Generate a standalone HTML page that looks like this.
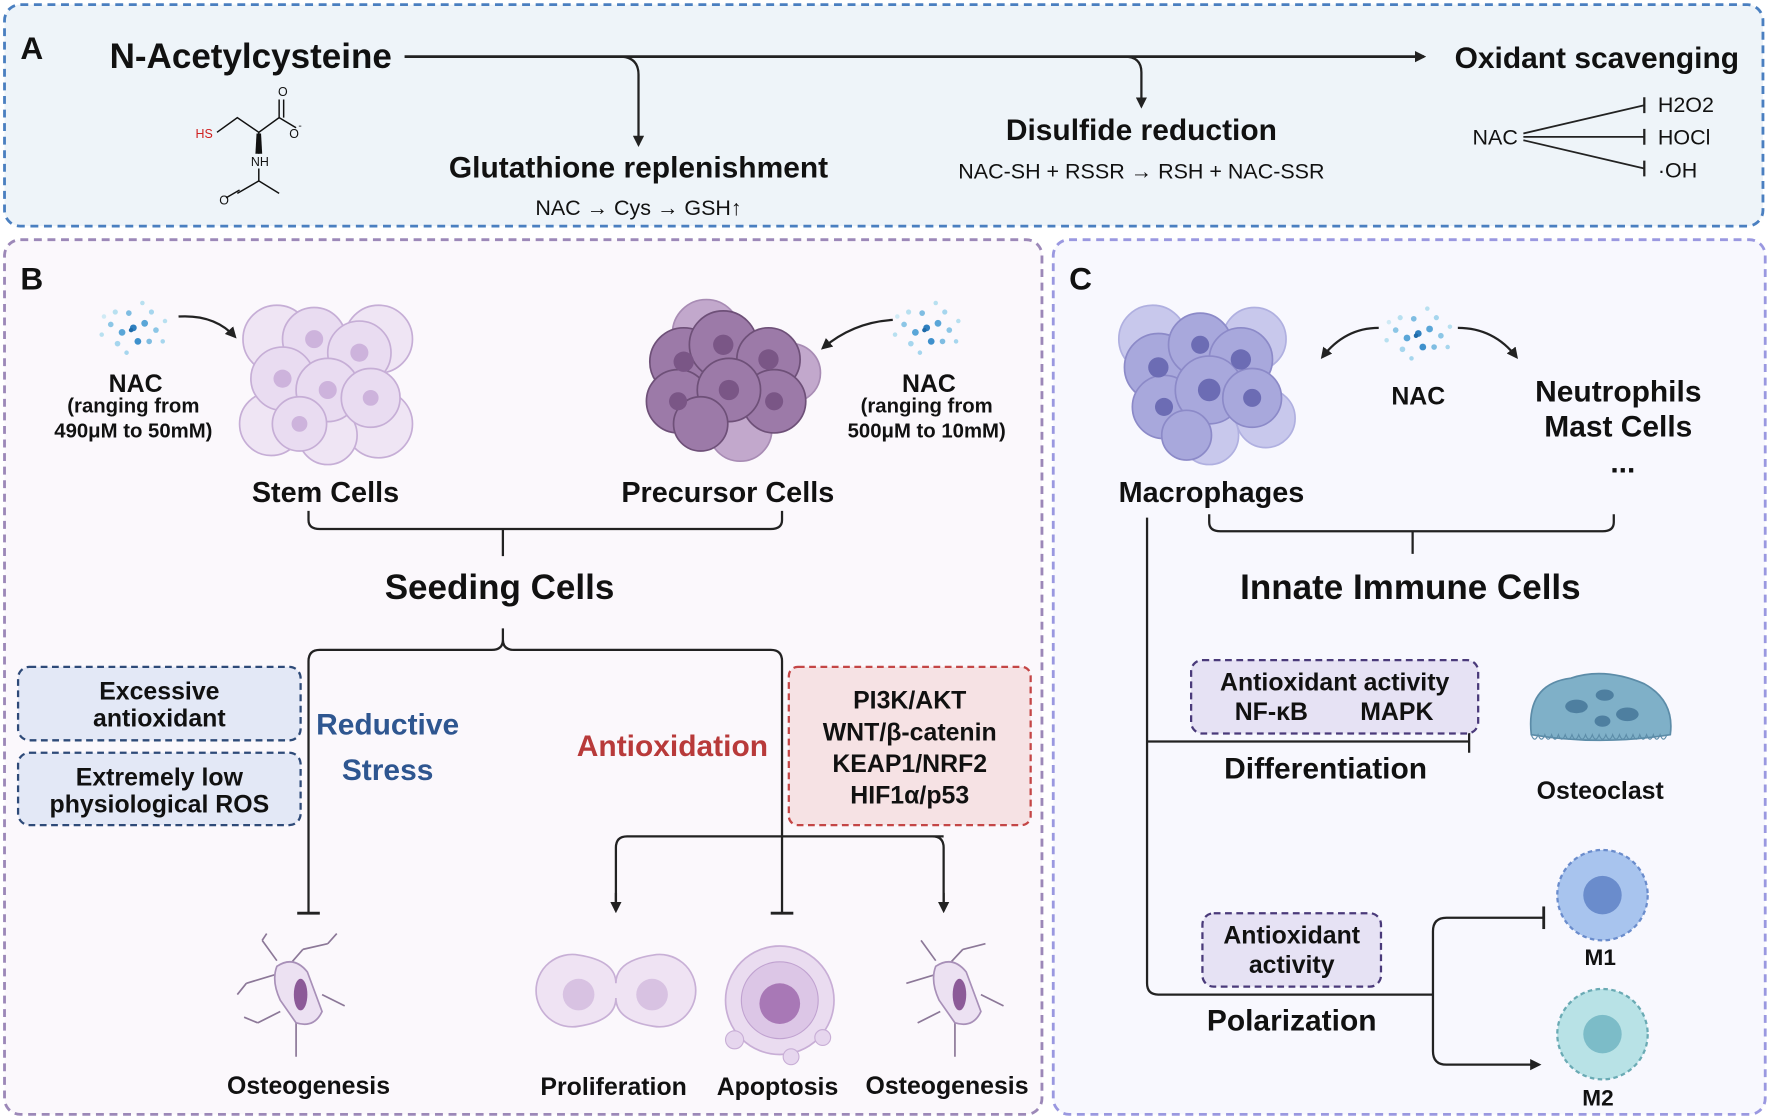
<!DOCTYPE html>
<html><head><meta charset="utf-8"><style>
html,body{margin:0;padding:0;background:#fff}
svg{display:block}
text{font-family:"Liberation Sans",Arial,sans-serif;fill:#111}
.b{font-weight:bold}
</style></head><body>
<svg width="1772" height="1119" viewBox="0 0 1568 990" xmlns="http://www.w3.org/2000/svg">
<defs>
<marker id="ar" markerWidth="10" markerHeight="10" refX="8" refY="5" orient="auto" markerUnits="userSpaceOnUse"><path d="M0,0 L10,5 L0,10 z" fill="#222"/></marker>
<g id="nac">
<circle cx="0" cy="0" r="3" fill="#2f7fbf"/><circle cx="10" cy="-4" r="3" fill="#5aa6d8"/><circle cx="-10" cy="4" r="3" fill="#5aa6d8"/>
<circle cx="20" cy="2" r="2.5" fill="#8cc6e6"/><circle cx="-20" cy="-3" r="2.5" fill="#8cc6e6"/><circle cx="4" cy="12" r="3" fill="#3e90cc"/>
<circle cx="-4" cy="-13" r="2.5" fill="#7fbde2"/><circle cx="14" cy="12" r="2.5" fill="#7fbde2"/><circle cx="-14" cy="14" r="2.5" fill="#a6d6ee"/>
<circle cx="16" cy="-14" r="2.3" fill="#a6d6ee"/><circle cx="-16" cy="-14" r="2.3" fill="#b8e0f0"/><circle cx="28" cy="-6" r="2" fill="#b8e0f0"/>
<circle cx="-28" cy="6" r="2" fill="#b8e0f0"/><circle cx="26" cy="12" r="2" fill="#a6d6ee"/><circle cx="-6" cy="22" r="2" fill="#a6d6ee"/>
<circle cx="8" cy="-22" r="2" fill="#b8e0f0"/><circle cx="-26" cy="-10" r="2" fill="#cfeaf5"/><circle cx="-2" cy="2" r="2" fill="#1f6aa8"/>
</g>
</defs>

<rect x="4" y="4" width="1556" height="196" rx="14" fill="#eef4f9" stroke="#4a7fc0" stroke-width="2.5" stroke-dasharray="7,5"/>
<rect x="4" y="212" width="918" height="774" rx="14" fill="#fbf8fc" stroke="#9c88b8" stroke-width="2.5" stroke-dasharray="7,5"/>
<rect x="932" y="212" width="630" height="774" rx="14" fill="#f8f8fe" stroke="#9a98e0" stroke-width="2.5" stroke-dasharray="7,5"/>

<text x="18" y="52" class="b" font-size="28">A</text>
<text x="97" y="60" class="b" font-size="31">N-Acetylcysteine</text>
<path d="M358 50 H1260" stroke="#222" stroke-width="2.5" fill="none" marker-end="url(#ar)"/>
<path d="M548 50 Q565 50 565 66 V128" stroke="#222" stroke-width="2" fill="none" marker-end="url(#ar)"/>
<path d="M995 50 Q1010 50 1010 64 V94" stroke="#222" stroke-width="2" fill="none" marker-end="url(#ar)"/>
<text x="1413" y="60" class="b" font-size="26.5" text-anchor="middle">Oxidant scavenging</text>
<text x="565" y="157" class="b" font-size="26.5" text-anchor="middle">Glutathione replenishment</text>
<text x="565" y="190" font-size="19" text-anchor="middle">NAC → Cys → GSH↑</text>
<text x="1010" y="124" class="b" font-size="26.5" text-anchor="middle">Disulfide reduction</text>
<text x="1010" y="158" font-size="19" text-anchor="middle">NAC-SH + RSSR → RSH + NAC-SSR</text>
<text x="1303" y="128" font-size="19">NAC</text>
<path d="M1348 118 L1455 93 M1348 121 H1455 M1348 124 L1455 149" stroke="#222" stroke-width="1.6" fill="none"/>
<path d="M1455 86 V100 M1455 114 V128 M1455 142 V156" stroke="#222" stroke-width="2"/>
<text x="1467" y="99" font-size="19">H2O2</text>
<text x="1467" y="128" font-size="19">HOCl</text>
<text x="1467" y="157" font-size="19">·OH</text>
<g stroke="#111" stroke-width="1.3" fill="none">
<path d="M192 117 L210 104 L229 117 L247 104 L247 88 M251 104 V88 M247 104 L262 113"/>
<path d="M229 117 L229 136 M229 149 L229 160 L210 171 M212 168 L200 175 M229 160 L247 171"/>
</g>
<path d="M227 118 L231 118 L232 136 L226 136z" fill="#111"/>
<text x="246" y="85" font-size="11">O</text>
<text x="256" y="122" font-size="11">O</text><text x="264" y="114" font-size="9">-</text>
<text x="173" y="122" font-size="11" style="fill:#d02020">HS</text>
<text x="222" y="147" font-size="11">NH</text>
<text x="194" y="181" font-size="11">O</text>

<text x="18" y="256" class="b" font-size="28">B</text>
<use href="#nac" x="118" y="290"/>
<path d="M158 280 Q190 278 208 298" stroke="#222" stroke-width="2" fill="none" marker-end="url(#ar)"/>
<text x="120" y="347" class="b" font-size="22" text-anchor="middle">NAC</text>
<text x="118" y="365" class="b" font-size="18" text-anchor="middle">(ranging from</text>
<text x="118" y="387" class="b" font-size="18" text-anchor="middle">490μM to 50mM)</text>
<g stroke="#c6aed6" stroke-width="1.5" fill="#e9dcf1">
<circle cx="245" cy="300" r="30" fill="#efe5f4"/><circle cx="335" cy="300" r="30" fill="#efe5f4"/><circle cx="240" cy="375" r="28" fill="#efe5f4"/><circle cx="335" cy="375" r="30" fill="#efe5f4"/><circle cx="290" cy="385" r="26" fill="#efe5f4"/>
<circle cx="278" cy="300" r="28"/><circle cx="318" cy="312" r="28"/><circle cx="250" cy="335" r="28"/><circle cx="290" cy="345" r="28"/><circle cx="328" cy="352" r="26"/><circle cx="265" cy="375" r="24"/>
</g>
<g fill="#cdb3dc"><circle cx="278" cy="300" r="8"/><circle cx="318" cy="312" r="8"/><circle cx="250" cy="335" r="8"/><circle cx="290" cy="345" r="8"/><circle cx="328" cy="352" r="7"/><circle cx="265" cy="375" r="7"/></g>
<text x="288" y="444" class="b" font-size="25.5" text-anchor="middle">Stem Cells</text>

<use href="#nac" x="820" y="290"/>
<path d="M790 283 Q755 285 728 308" stroke="#222" stroke-width="2" fill="none" marker-end="url(#ar)"/>
<text x="822" y="347" class="b" font-size="22" text-anchor="middle">NAC</text>
<text x="820" y="365" class="b" font-size="18" text-anchor="middle">(ranging from</text>
<text x="820" y="387" class="b" font-size="18" text-anchor="middle">500μM to 10mM)</text>
<g stroke="#6e5078" stroke-width="1.5" fill="#9c7aa8">
<circle cx="625" cy="295" r="30" fill="#c2a8cc" stroke="#a88cb4"/><circle cx="700" cy="330" r="26" fill="#c2a8cc" stroke="#a88cb4"/><circle cx="655" cy="380" r="28" fill="#c2a8cc" stroke="#a88cb4"/>
<circle cx="605" cy="320" r="30"/><circle cx="640" cy="305" r="30"/><circle cx="680" cy="318" r="28"/><circle cx="600" cy="355" r="28"/><circle cx="685" cy="355" r="28"/><circle cx="645" cy="345" r="28"/><circle cx="620" cy="375" r="24"/>
</g>
<g fill="#7a5686"><circle cx="605" cy="320" r="9"/><circle cx="640" cy="305" r="9"/><circle cx="680" cy="318" r="9"/><circle cx="600" cy="355" r="8"/><circle cx="685" cy="355" r="8"/><circle cx="645" cy="345" r="9"/></g>
<text x="644" y="444" class="b" font-size="25.5" text-anchor="middle">Precursor Cells</text>

<path d="M273 452 V460 Q273 468 283 468 H682 Q692 468 692 460 V452 M445 468 V492" stroke="#222" stroke-width="2" fill="none"/>
<text x="442" y="530" class="b" font-size="31" text-anchor="middle">Seeding Cells</text>
<path d="M445 556 V566 Q445 575 435 575 H283 Q273 575 273 585 V808 M445 566 Q445 575 455 575 H682 Q692 575 692 585 V808" stroke="#222" stroke-width="2" fill="none"/>
<path d="M263 808 H283 M682 808 H702" stroke="#222" stroke-width="2.5"/>
<path d="M555 740 H835 M555 740 Q545 740 545 750 V802 M825 740 Q835 740 835 750 V802" stroke="#222" stroke-width="2" fill="none"/>
<path d="M545 790 V806" stroke="#222" stroke-width="2" marker-end="url(#ar)"/>
<path d="M835 790 V806" stroke="#222" stroke-width="2" marker-end="url(#ar)"/>

<rect x="16" y="590" width="250" height="65" rx="10" fill="#e3e8f6" stroke="#2e4a78" stroke-width="2" stroke-dasharray="6,4"/>
<text x="141" y="619" class="b" font-size="22" text-anchor="middle">Excessive</text>
<text x="141" y="643" class="b" font-size="22" text-anchor="middle">antioxidant</text>
<rect x="16" y="666" width="250" height="64" rx="10" fill="#e3e8f6" stroke="#2e4a78" stroke-width="2" stroke-dasharray="6,4"/>
<text x="141" y="695" class="b" font-size="22" text-anchor="middle">Extremely low</text>
<text x="141" y="719" class="b" font-size="22" text-anchor="middle">physiological ROS</text>
<text x="343" y="650" class="b" font-size="26.5" text-anchor="middle" style="fill:#2e5690">Reductive</text>
<text x="343" y="690" class="b" font-size="26.5" text-anchor="middle" style="fill:#2e5690">Stress</text>
<text x="595" y="669" class="b" font-size="26.5" text-anchor="middle" style="fill:#b83a3a">Antioxidation</text>
<rect x="698" y="590" width="214" height="140" rx="8" fill="#f6e2e4" stroke="#c44646" stroke-width="2" stroke-dasharray="6,4"/>
<text x="805" y="627" class="b" font-size="22" text-anchor="middle">PI3K/AKT</text>
<text x="805" y="655" class="b" font-size="22" text-anchor="middle">WNT/β-catenin</text>
<text x="805" y="683" class="b" font-size="22" text-anchor="middle">KEAP1/NRF2</text>
<text x="805" y="711" class="b" font-size="22" text-anchor="middle">HIF1α/p53</text>

<g stroke="#8c7898" stroke-width="1.5" fill="none">
<path d="M245 850 L232 832 M232 832 L236 826 M255 855 L268 840 M268 840 L290 835 M290 835 L298 826 M262 900 L262 935 M248 895 L228 905 M228 905 L216 900 M285 880 L305 890 M258 858 L218 870 M218 870 L210 880"/>
<path d="M828 850 L815 832 M838 855 L852 840 M852 840 L872 835 M845 900 L845 935 M832 895 L812 905 M868 880 L888 890 M842 858 L802 870"/>
</g>
<path d="M245 855 Q260 845 272 860 L285 895 Q278 910 262 905 L248 885 Q240 868 245 855z" fill="#ece1f2" stroke="#a890b8" stroke-width="1.5"/>
<ellipse cx="266" cy="880" rx="6" ry="14" fill="#8c5a98"/>
<path d="M828 855 Q843 845 855 860 L868 895 Q861 910 845 905 L831 885 Q823 868 828 855z" fill="#ece1f2" stroke="#a890b8" stroke-width="1.5"/>
<ellipse cx="849" cy="880" rx="6" ry="14" fill="#8c5a98"/>
<text x="273" y="968" class="b" font-size="22" text-anchor="middle">Osteogenesis</text>
<path d="M512 845 Q545 850 545 870 Q545 850 578 845 A32 32 0 1 1 578 908 Q545 903 545 883 Q545 903 512 908 A32 32 0 1 1 512 845z" fill="#efe3f3" stroke="#c8b0d6" stroke-width="1.5"/>
<circle cx="512" cy="880" r="14" fill="#d8c2e2"/><circle cx="577" cy="880" r="14" fill="#d8c2e2"/>
<text x="543" y="969" class="b" font-size="22" text-anchor="middle">Proliferation</text>
<circle cx="690" cy="885" r="48" fill="#eadcf0" stroke="#c8aed6" stroke-width="1.5"/>
<circle cx="690" cy="885" r="34" fill="#dcc6e6" stroke="#c0a2d0"/>
<circle cx="690" cy="888" r="18" fill="#a878b6"/>
<circle cx="650" cy="920" r="8" fill="#e6d6ee" stroke="#c8aed6"/><circle cx="728" cy="918" r="7" fill="#e6d6ee" stroke="#c8aed6"/><circle cx="700" cy="935" r="7" fill="#e6d6ee" stroke="#c8aed6"/>
<text x="688" y="969" class="b" font-size="22" text-anchor="middle">Apoptosis</text>
<text x="838" y="968" class="b" font-size="22" text-anchor="middle">Osteogenesis</text>

<text x="946" y="256" class="b" font-size="28">C</text>
<g stroke="#8c8ac8" stroke-width="1.5" fill="#a8a8dc">
<circle cx="1020" cy="300" r="30" fill="#c8c8ec" stroke="#b0b0e0"/><circle cx="1110" cy="300" r="28" fill="#c8c8ec" stroke="#b0b0e0"/><circle cx="1120" cy="370" r="26" fill="#c8c8ec" stroke="#b0b0e0"/><circle cx="1070" cy="385" r="26" fill="#c8c8ec" stroke="#b0b0e0"/>
<circle cx="1025" cy="325" r="30"/><circle cx="1062" cy="305" r="28"/><circle cx="1098" cy="318" r="28"/><circle cx="1030" cy="360" r="28"/><circle cx="1070" cy="345" r="30"/><circle cx="1108" cy="352" r="26"/><circle cx="1050" cy="385" r="22"/>
</g>
<g fill="#6c6cb4"><circle cx="1025" cy="325" r="9"/><circle cx="1062" cy="305" r="8"/><circle cx="1098" cy="318" r="9"/><circle cx="1030" cy="360" r="8"/><circle cx="1070" cy="345" r="10"/><circle cx="1108" cy="352" r="8"/></g>
<text x="1072" y="444" class="b" font-size="25.5" text-anchor="middle">Macrophages</text>
<use href="#nac" x="1255" y="295"/>
<path d="M1220 290 Q1190 290 1170 316" stroke="#222" stroke-width="2" fill="none" marker-end="url(#ar)"/>
<path d="M1290 290 Q1322 290 1342 316" stroke="#222" stroke-width="2" fill="none" marker-end="url(#ar)"/>
<text x="1255" y="358" class="b" font-size="22" text-anchor="middle">NAC</text>
<text x="1432" y="355" class="b" font-size="26.5" text-anchor="middle">Neutrophils</text>
<text x="1432" y="386" class="b" font-size="26.5" text-anchor="middle">Mast Cells</text>
<text x="1436" y="418" class="b" font-size="26.5" text-anchor="middle">...</text>
<path d="M1070 455 V462 Q1070 470 1080 470 H1418 Q1428 470 1428 462 V455 M1250 470 V490" stroke="#222" stroke-width="2" fill="none"/>
<text x="1248" y="530" class="b" font-size="31" text-anchor="middle">Innate Immune Cells</text>
<path d="M1015 458 V870 Q1015 880 1025 880 H1268" stroke="#222" stroke-width="2" fill="none"/>
<path d="M1015 656 H1300 M1300 646 V666" stroke="#222" stroke-width="2" fill="none"/>
<rect x="1054" y="584" width="254" height="65" rx="10" fill="#e6e2f4" stroke="#4a3a7a" stroke-width="2" stroke-dasharray="6,4"/>
<text x="1181" y="611" class="b" font-size="22" text-anchor="middle">Antioxidant activity</text>
<text x="1125" y="637" class="b" font-size="22" text-anchor="middle">NF-κB</text>
<text x="1236" y="637" class="b" font-size="22" text-anchor="middle">MAPK</text>
<text x="1173" y="689" class="b" font-size="26.5" text-anchor="middle">Differentiation</text>
<path d="M1355 650 Q1350 605 1390 600 Q1420 590 1455 605 Q1482 620 1478 650 Q1415 660 1355 650z" fill="#7fb0c8" stroke="#5c8ca8" stroke-width="1.5"/>
<path d="M1355 650 q3 8 6 0 q3 8 6 0 q3 8 6 0 q3 8 6 0 q3 8 6 0 q3 8 6 0 q3 8 6 0 q3 8 6 0 q3 8 6 0 q3 8 6 0 q3 8 6 0 q3 8 6 0 q3 8 6 0 q3 8 6 0 q3 8 6 0 q3 8 6 0 q3 8 6 0 q3 8 6 0 q3 8 6 0 q3 8 6 0" stroke="#5c8ca8" fill="none"/>
<g fill="#4e7fa0"><ellipse cx="1395" cy="625" rx="10" ry="6"/><ellipse cx="1420" cy="615" rx="8" ry="5"/><ellipse cx="1440" cy="632" rx="10" ry="6"/><ellipse cx="1418" cy="638" rx="7" ry="5"/></g>
<text x="1416" y="707" class="b" font-size="22" text-anchor="middle">Osteoclast</text>

<rect x="1064" y="808" width="158" height="65" rx="10" fill="#e6e2f4" stroke="#4a3a7a" stroke-width="2" stroke-dasharray="6,4"/>
<text x="1143" y="835" class="b" font-size="22" text-anchor="middle">Antioxidant</text>
<text x="1143" y="861" class="b" font-size="22" text-anchor="middle">activity</text>
<text x="1143" y="912" class="b" font-size="26.5" text-anchor="middle">Polarization</text>
<path d="M1365 812 H1280 Q1268 812 1268 824 V930 Q1268 942 1280 942 H1362" stroke="#222" stroke-width="2" fill="none" marker-end="url(#ar)"/>
<path d="M1366 802 V822" stroke="#222" stroke-width="2.5"/>
<circle cx="1418" cy="792" r="40" fill="#a8c4ee" stroke="#6a8ccc" stroke-width="2" stroke-dasharray="4,3"/>
<circle cx="1418" cy="792" r="34" fill="#a8c4ee"/>
<circle cx="1418" cy="792" r="17" fill="#6a8ccc"/>
<text x="1416" y="854" class="b" font-size="20" text-anchor="middle">M1</text>
<circle cx="1418" cy="915" r="40" fill="#b8e2e6" stroke="#6aaab4" stroke-width="2" stroke-dasharray="4,3"/>
<circle cx="1418" cy="915" r="34" fill="#b8e2e6"/>
<circle cx="1418" cy="915" r="17" fill="#7cbcc8"/>
<text x="1414" y="978" class="b" font-size="20" text-anchor="middle">M2</text>
</svg>
</body></html>
